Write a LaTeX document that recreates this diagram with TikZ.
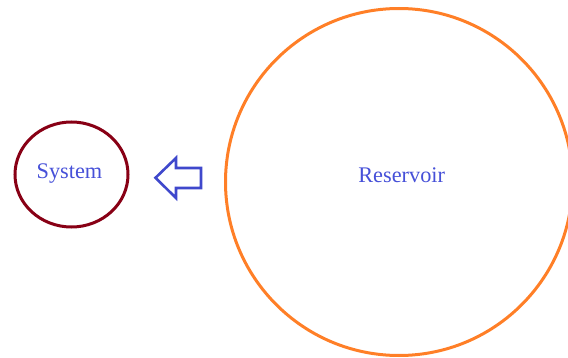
\documentclass[tikz,border=0pt]{standalone}
\usepackage{fontspec}
\setmainfont{Liberation Serif}
\usetikzlibrary{shapes.geometric}
\definecolor{resorange}{HTML}{FF7F27}
\definecolor{sysred}{HTML}{880015}
\definecolor{arrblue}{HTML}{3F48CC}
\definecolor{txtblue}{HTML}{4650D8}
\begin{document}
\begin{tikzpicture}[x=1pt,y=-1pt,
  sysbox/.style={draw=sysred, line width=3pt, ellipse, minimum width=113pt, minimum height=105pt, inner sep=0pt},
  resbox/.style={draw=resorange, line width=3pt, circle, minimum size=347pt, inner sep=0pt},
  lbl/.style={text=txtblue, font=\fontsize{22.3}{24}\selectfont, inner sep=0pt, anchor=base},
  blockarrow/.style={draw=arrblue, line width=2.6pt, line join=miter}]
\useasboundingbox (0,0) rectangle (568,358);
\clip (0,0) rectangle (568,358);
\node[sysbox] (sys) at (71.5,174.5) {};
\node[lbl] (systxt) at (69.5,178.3) {System};
\node[resbox] (res) at (399,182) {};
\node[lbl] (restxt) at (401.7,182.7) {Reservoir};
\draw[blockarrow] (155.5,177.8) -- (176,158) -- (176,168) -- (201,168) -- (201,188) -- (176,188) -- (176,198) -- cycle;
\end{tikzpicture}
\end{document}
